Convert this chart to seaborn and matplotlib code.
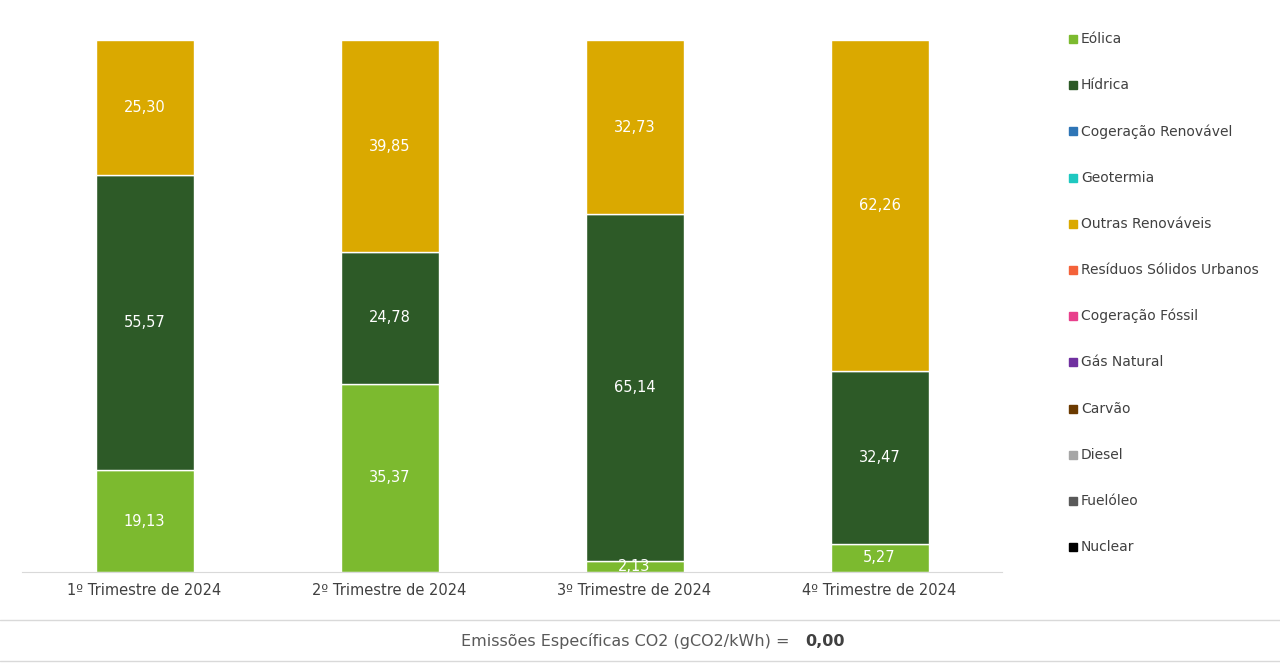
import matplotlib
matplotlib.use('Agg')
import matplotlib.pyplot as plt
import seaborn as sns
import pandas as pd
import numpy as np

quarters = ['1º Trimestre de 2024', '2º Trimestre de 2024', '3º Trimestre de 2024', '4º Trimestre de 2024']
eolica = [19.13, 35.37, 2.13, 5.27]
hidrica = [55.57, 24.78, 65.14, 32.47]
outras = [25.30, 39.85, 32.73, 62.26]

legend_names = ['Eólica', 'Hídrica', 'Cogeração Renovável', 'Geotermia', 'Outras Renováveis',
                'Resíduos Sólidos Urbanos', 'Cogeração Fóssil', 'Gás Natural', 'Carvão',
                'Diesel', 'Fuelóleo', 'Nuclear']
legend_colors = ['#7cba2f', '#2d5a27', '#2e75b6', '#1ec8c0', '#daa900', '#f4623a',
                 '#e8408c', '#7030a0', '#6b3a00', '#a6a6a6', '#595959', '#000000']

plt.rcParams['font.family'] = 'Open Sans'
sns.set_style('white')

fig = plt.figure(figsize=(12.8, 6.63), dpi=100)
ax = fig.add_axes([22/1280, 1 - 572/663, 980/1280, 532/663])

df = pd.DataFrame({'q': quarters, 'Eólica': eolica, 'Hídrica': hidrica, 'Outras Renováveis': outras})
bottom = np.zeros(len(quarters))
for name, col in [('Eólica', '#7cba2f'), ('Hídrica', '#2d5a27'), ('Outras Renováveis', '#daa900')]:
    vals = df[name].values
    ax.bar(np.arange(len(quarters)), vals, bottom=bottom, width=0.4, color=col)
    for i, v in enumerate(vals):
        ax.text(i, bottom[i] + v / 2, f'{v:.2f}'.replace('.', ','), ha='center', va='center',
                color='white', fontsize=10.5)
    bottom += vals

ax.set_xlim(-0.5, 3.5)
ax.set_ylim(0, 100)
ax.set_xticks(range(len(quarters)))
ax.set_xticklabels(quarters, fontsize=10.5, color='#404040')
ax.set_yticks([])
for s in ['top', 'right', 'left']:
    ax.spines[s].set_visible(False)
ax.spines['bottom'].set_color('#d9d9d9')
ax.tick_params(axis='x', length=0, pad=8)

# legend
for i, (n, c) in enumerate(zip(legend_names, legend_colors)):
    y = 1 - (39 + i * 46.2) / 663
    fig.patches.append(plt.Rectangle((1069/1280, y - 4/663), 8/1280, 8/663, color=c,
                                     transform=fig.transFigure, figure=fig))
    fig.text(1081/1280, y, n, va='center', ha='left', fontsize=10, color='#404040')

# bottom band
fig.add_artist(plt.Line2D([0, 1], [1 - 620/663] * 2, color='#d9d9d9', lw=1))
fig.add_artist(plt.Line2D([0, 1], [1 - 661/663] * 2, color='#d9d9d9', lw=1))
fig.text(800/1280, 1 - 641/663, 'Emissões Específicas CO2 (gCO2/kWh) =  ', ha='right', va='center',
         fontsize=11.5, color='#595959')
fig.text(805/1280, 1 - 641/663, '0,00', ha='left', va='center', fontsize=11.5,
         color='#404040', fontweight='bold')

fig.savefig('out.png', dpi=100)
